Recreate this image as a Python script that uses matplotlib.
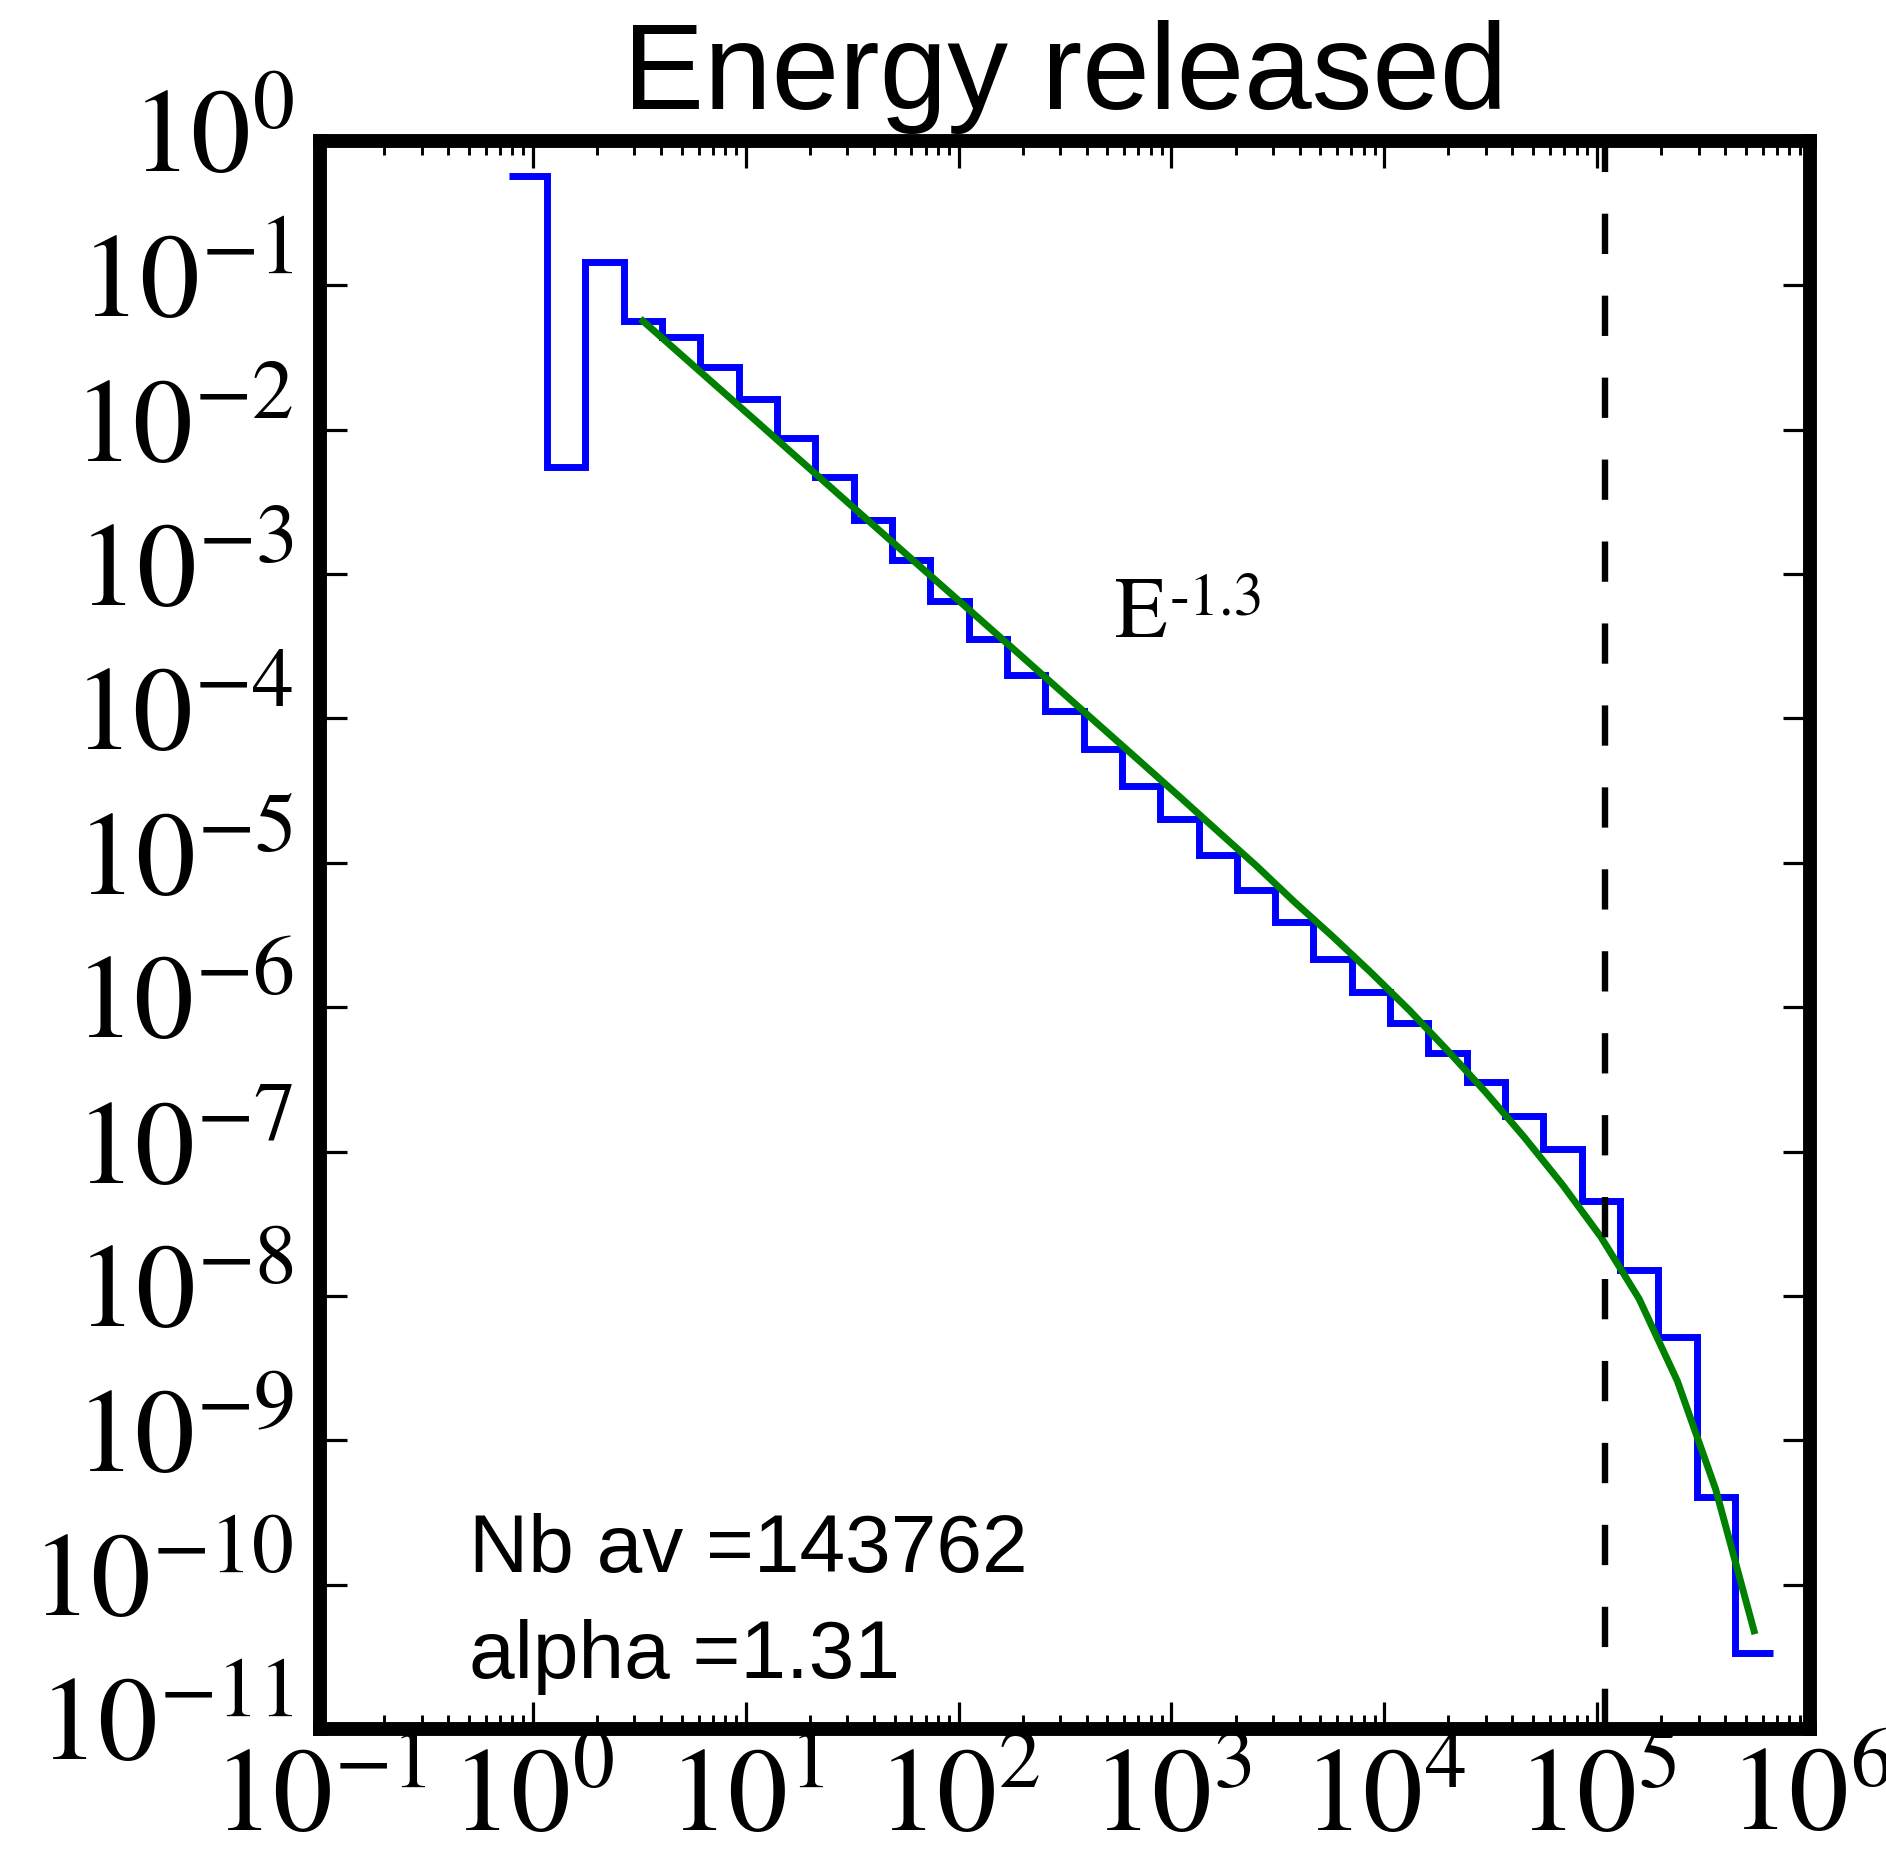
import matplotlib
matplotlib.use("Agg")
import matplotlib.pyplot as plt
from matplotlib.ticker import LogLocator, FuncFormatter, NullLocator
from matplotlib.transforms import ScaledTranslation
import numpy as np

plt.rcParams['mathtext.fontset'] = 'stix'
plt.rcParams['lines.scale_dashes'] = False

# ---- data ----
bin_edges = [0.771, 1.167, 1.766, 2.673, 4.046, 6.124, 9.268, 14.03, 21.23, 32.14,
             48.64, 73.62, 111.4, 168.7, 255.3, 386.4, 584.8, 885.1, 1340, 2028,
             3069, 4645, 7031, 10640, 16110, 24380, 36900, 55850, 84530, 127900,
             193600, 293100, 443600, 671400]
hist_vals = [5.73e-1, 5.52e-3, 1.44e-1, 5.62e-2, 4.39e-2, 2.71e-2, 1.62e-2, 8.75e-3,
             4.73e-3, 2.37e-3, 1.26e-3, 6.56e-4, 3.55e-4, 2.00e-4, 1.12e-4, 6.19e-5,
             3.41e-5, 2.00e-5, 1.14e-5, 6.46e-6, 3.91e-6, 2.15e-6, 1.28e-6, 7.80e-7,
             4.82e-7, 3.04e-7, 1.75e-7, 1.04e-7, 4.55e-8, 1.50e-8, 5.21e-9, 4.06e-10,
             3.35e-11]
fit_x = [3.289, 4.977, 7.534, 11.40, 17.26, 26.12, 39.54, 59.84, 90.57, 137.1,
         207.5, 314.1, 475.3, 719.4, 1089, 1648, 2495, 3776, 5715, 8650,
         13090, 19820, 29990, 45390, 68710, 104000, 157400, 238200, 360600, 545800]
fit_y = [5.66e-2, 3.30e-2, 1.92e-2, 1.12e-2, 6.50e-3, 3.78e-3, 2.20e-3, 1.28e-3,
         7.46e-4, 4.35e-4, 2.53e-4, 1.47e-4, 8.55e-5, 4.97e-5, 2.88e-5, 1.66e-5,
         9.59e-6, 5.37e-6, 3.09e-6, 1.74e-6, 9.55e-7, 5.01e-7, 2.57e-7, 1.26e-7,
         5.89e-8, 2.57e-8, 9.55e-9, 2.57e-9, 4.57e-10, 4.79e-11]
cutoff_energy = 1.09e5
nb_av = 143762
alpha = 1.31
title = "Energy released"
slope_label_base = "E"
slope_label_exp = "-1.3"
xlim = (1e-1, 1e6)
ylim = (1e-11, 1e0)

# ---- figure ----
fig = plt.figure(figsize=(18.86, 18.50), dpi=100)
ax = fig.add_axes([0.1697, 0.0654, 0.7900, 0.8584])

ax.stairs(hist_vals, bin_edges, baseline=None, color='blue', linewidth=5)
ax.plot(fit_x, fit_y, color='green', linewidth=5)
vl = ax.axvline(cutoff_energy, color='black', linewidth=4.6)
vl.set_dashes((29, 30))

ax.set_xscale('log')
ax.set_yscale('log')
ax.set_xlim(*xlim)
ax.set_ylim(*ylim)

ax.xaxis.set_major_locator(LogLocator(base=10, numticks=20))
ax.xaxis.set_minor_locator(LogLocator(base=10, subs=np.arange(2, 10), numticks=20))
ax.yaxis.set_major_locator(LogLocator(base=10, numticks=30))
ax.yaxis.set_minor_locator(NullLocator())

fmt = FuncFormatter(lambda v, p: r'$\mathrm{10^{%d}}$' % int(round(np.log10(v))))
ax.xaxis.set_major_formatter(fmt)
ax.yaxis.set_major_formatter(fmt)

for s in ax.spines.values():
    s.set_linewidth(10)

ax.tick_params(which='both', direction='in', top=True, right=True)
ax.tick_params(which='major', length=19.5, width=2.3)
ax.tick_params(which='minor', length=10, width=2.1)
ax.tick_params(axis='x', which='major', labelsize=86, pad=8)
ax.tick_params(axis='y', which='major', labelsize=86, pad=19)

fig.canvas.draw()
up = ScaledTranslation(0, 10 / 72, fig.dpi_scale_trans)
for t in ax.yaxis.get_major_ticks():
    t.label1.set_transform(t.label1.get_transform() + up)

ax.set_title(title, fontsize=87.5, family='Liberation Sans', pad=23)

ax.text(0.100, 0.0989, "Nb av =%d" % nb_av, transform=ax.transAxes,
        fontsize=59, family='Liberation Sans', ha='left', va='baseline')
ax.text(0.100, 0.032, "alpha =%.2f" % alpha, transform=ax.transAxes,
        fontsize=59, family='Liberation Sans', ha='left', va='baseline')
ax.text(0.5336, 0.6877, slope_label_base, transform=ax.transAxes,
        fontsize=62, family='STIXGeneral', ha='left', va='baseline')
ax.text(0.5705, 0.7015, slope_label_exp, transform=ax.transAxes,
        fontsize=43, family='STIXGeneral', ha='left', va='baseline')

fig.savefig('out.png', dpi=100)
